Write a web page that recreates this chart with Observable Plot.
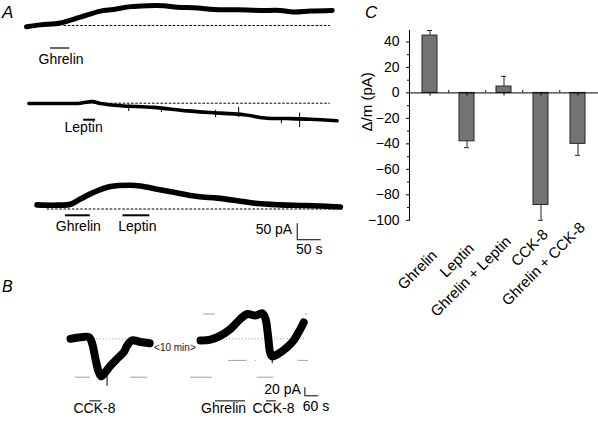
<!DOCTYPE html>
<html><head><meta charset="utf-8">
<script src="https://cdn.jsdelivr.net/npm/d3@7"></script>
<script src="https://cdn.jsdelivr.net/npm/@observablehq/plot@0.6"></script>
<style>
html,body{margin:0;padding:0;background:#fff;}
#fig{position:relative;width:598px;height:422px;overflow:hidden;background:#fff;font-family:"Liberation Sans",Arial,Helvetica,sans-serif;}
#fig svg{position:absolute;left:0;top:0;}
.panel{position:absolute;font-style:italic;line-height:1;color:#000;}
</style></head>
<body><div id="fig">
<div class="panel" style="left:2px;top:4px;font-size:17px">A</div>
<div class="panel" style="left:2px;top:279px;font-size:16px">B</div>
<div class="panel" style="left:365px;top:4px;font-size:17px">C</div>
</div>
<script>
// ---------- Panel C data ----------
const categories = ["Ghrelin", "Leptin", "Ghrelin + Leptin", "CCK-8", "Ghrelin + CCK-8"];
const meanDelta = [45, -38, 5, -88, -40];
const semDelta = [4, 5, 8, 12, 9];
const yTicks = [40, 20, 0, -20, -40, -60, -80, -100];
const yMinorTicks = [30, 10, -10, -30, -50, -70, -90];

// ---------- Panel A data: [time (s), current (pA) relative to dashed baseline] ----------
const traceA1 = [[0,-4],[29,2],[71,8],[112,26],[154,45],[181,50],[217,59],[251,62],[285,62],[314,57],[356,55],[390,50],[439,49],[487,47],[529,47],[556,42],[592,45],[637,47]];
const traceA2 = [[5,-1],[57,-1],[112,0],[137,5],[154,-1],[196,-8],[265,-13],[335,-24],[404,-31],[453,-36],[501,-47],[543,-48],[592,-50],[647,-55]];
const spikesA2 = [[213,-5,-26],[281,-12,-29],[394,-22,-45],[442,-13,-45],[531,-48,-64],[569,-31,-76]];
const traceA3 = [[22,13],[64,12],[92,15],[112,31],[140,52],[175,70],[217,74],[237,72],[272,62],[307,52],[356,39],[397,34],[439,26],[481,17],[529,13],[578,11],[633,8],[654,6]];
const baselineA1 = [78, 633];
const baselineA2 = [140, 633];
const baselineA3 = [43, 647];
const drugsA1 = [{drug: "Ghrelin", t1: 50, t2: 90, label: 72}];
const drugsA2 = [{drug: "Leptin", t1: 119, t2: 144, label: 119}];
const drugsA3 = [{drug: "Ghrelin", t1: 81, t2: 133, label: 108}, {drug: "Leptin", t1: 201, t2: 257, label: 231}];
const scaleA = {pA: 50, s: 50};

// ---------- Panel B data ----------
const traceBLeft = [[0,0],[43,4],[79,4],[93,-12],[107,-50],[121,-83],[132,-94],[150,-83],[172,-67],[200,-50],[229,-33],[243,-17],[265,-4],[300,-8],[340,-11]];
const traceBRight = [[0,-4],[43,-2],[86,8],[129,25],[172,50],[200,62],[236,58],[265,64],[279,50],[289,12],[300,-37],[308,-44],[329,-39],[372,-21],[400,-4],[429,25],[443,41]];
const spikesBLeft = [[157,-80,-119]];
const spikesBRight = [[308,-40,-62]];
const levelsBLeft = [{y: -96, t1: 21, t2: 86}, {y: -96, t1: 258, t2: 332}];
const dottedBLeft = [{y: 0, t1: 86, t2: 343}];
const levelsBRight = [{y: 62, t1: 14, t2: 64}, {y: 62, t1: 265, t2: 293}, {y: 62, t1: 451, t2: 459},
  {y: -54, t1: 121, t2: 200}, {y: -54, t1: 236, t2: 240}, {y: -54, t1: 420, t2: 464},
  {y: -96, t1: -43, t2: 50}, {y: -96, t1: 243, t2: 315}];
const dottedBRight = [{y: 0, t1: 29, t2: 451}];
const drugsBLeft = [{drug: "CCK-8", t1: 83, t2: 132, label: 103}];
const drugsBRight = [{drug: "Ghrelin", t1: 64, t2: 193, label: 99}, {drug: "CCK-8", t1: 283, t2: 326, label: 313}];
const scaleB = {pA: 20, s: 60};

// ---------- drawing helpers ----------
const W = 598, H = 422;
const FONT = "Liberation Sans, Arial, Helvetica, sans-serif";
const fig = document.getElementById("fig");
function overlay(options) {
  const svg = Plot.plot({
    width: W, height: H, margin: 0,
    style: {background: "transparent", fontFamily: FONT, fontSize: "14px", color: "#000", overflow: "visible"},
    ...options
  });
  svg.style.position = "absolute"; svg.style.left = "0px"; svg.style.top = "0px";
  fig.appendChild(svg);
}
// linear scales: time origin x0 (px), px per second, baseline y (px), px per pA
function traceScales(x0, pxPerS, baseY, pxPerPA) {
  return {
    x: {type: "linear", domain: [0, 100], range: [x0, x0 + 100 * pxPerS], axis: null},
    y: {type: "linear", domain: [0, 100], range: [baseY, baseY - 100 * pxPerPA], axis: null}
  };
}
const tx = d => d[0], ty = d => d[1];

// ---------- Panel A ----------
function drawTraceA(trace, base, baseY, drugs, opts) {
  const marks = [
    Plot.ruleY([0], {x1: base[0], x2: base[1], stroke: "#000", strokeWidth: 1, strokeDasharray: "2.6,1.6"}),
    Plot.line(trace, {x: tx, y: ty, stroke: "#000", strokeWidth: opts.width, curve: "catmull-rom", strokeLinecap: "round"}),
    Plot.ruleY(drugs, {x1: "t1", x2: "t2", y: 0, dy: opts.barDy, stroke: "#000", strokeWidth: opts.barWidth}),
    Plot.text(drugs, {x: "label", y: 0, text: "drug", dy: opts.textDy, lineAnchor: "bottom", fontSize: 14})
  ];
  if (opts.spikes) marks.push(Plot.ruleX(opts.spikes, {x: d => d[0], y1: d => d[1], y2: d => d[2], stroke: "#000", strokeWidth: 1}));
  if (opts.extra) marks.push(...opts.extra);
  overlay({...traceScales(26, 0.48, baseY, 0.32), marks});
}
drawTraceA(traceA1, baselineA1, 25, drugsA1, {width: 5, barDy: 22.5, barWidth: 1.2, textDy: 38.3});
drawTraceA(traceA2, baselineA2, 102.7, drugsA2, {width: 3.6, barDy: 16.5, barWidth: 2, textDy: 28.5, spikes: spikesA2});
const sbA = {t: 564, top: -46};
drawTraceA(traceA3, baselineA3, 208.5, drugsA3, {width: 5.6, barDy: 6.3, barWidth: 2, textDy: 22.2, extra: [
  Plot.ruleX([sbA], {x: "t", y1: "top", y2: d => d.top - scaleA.pA, stroke: "#000", strokeWidth: 1}),
  Plot.ruleY([sbA], {x1: "t", x2: d => d.t + scaleA.s, y: d => d.top - scaleA.pA, stroke: "#000", strokeWidth: 1}),
  Plot.text([`${scaleA.pA} pA`], {x: sbA.t, y: 0, dx: -5, dy: 24.8, textAnchor: "end", lineAnchor: "bottom", fontSize: 14}),
  Plot.text([`${scaleA.s} s`], {x: sbA.t + scaleA.s / 2, y: 0, dy: 44.8, lineAnchor: "bottom", fontSize: 14})
]});

// ---------- Panel B ----------
function drawTraceB(trace, x0, levels, dotted, spikes, drugs, extra) {
  overlay({...traceScales(x0, 0.233, 338.3, 0.4), marks: [
    Plot.ruleY(dotted, {x1: "t1", x2: "t2", y: "y", stroke: "#9a9a9a", strokeWidth: 1, strokeDasharray: "1,2.2"}),
    Plot.ruleY(levels, {x1: "t1", x2: "t2", y: "y", stroke: "#a0a0a0", strokeWidth: 1}),
    Plot.line(trace, {x: tx, y: ty, stroke: "#000", strokeWidth: 8, curve: "catmull-rom"}),
    Plot.ruleX(spikes, {x: d => d[0], y1: d => d[1], y2: d => d[2], stroke: "#000", strokeWidth: 1}),
    Plot.ruleY(drugs, {x1: "t1", x2: "t2", y: 0, dy: 62, stroke: "#555", strokeWidth: 1.5}),
    Plot.text(drugs, {x: "label", y: 0, text: "drug", dy: 73.7, lineAnchor: "bottom", fontSize: 14}),
    ...extra
  ]});
}
drawTraceB(traceBLeft, 70, levelsBLeft, dottedBLeft, spikesBLeft, drugsBLeft, [
  Plot.text(["<10 min>"], {x: 448, y: 0, dy: 11.7, lineAnchor: "bottom", fontSize: 10, fill: "#222"})
]);
const sbB = {t: 448, top: -122.5};
drawTraceB(traceBRight, 200, levelsBRight, dottedBRight, spikesBRight, drugsBRight, [
  Plot.ruleX([sbB], {x: "t", y1: "top", y2: d => d.top - scaleB.pA, stroke: "#000", strokeWidth: 1}),
  Plot.ruleY([sbB], {x1: "t", x2: d => d.t + scaleB.s, y: d => d.top - scaleB.pA, stroke: "#000", strokeWidth: 1}),
  Plot.text([`${scaleB.pA} pA`], {x: sbB.t, y: 0, dx: -4, dy: 55, textAnchor: "end", lineAnchor: "bottom", fontSize: 14}),
  Plot.text([`${scaleB.s} s`], {x: sbB.t + scaleB.s * 0.8, y: 0, dy: 71.7, lineAnchor: "bottom", fontSize: 14})
]);

// ---------- Panel C ----------
const barData = categories.map((c, i) => ({cat: c, mean: meanDelta[i], sem: semDelta[i], end: meanDelta[i] + Math.sign(meanDelta[i]) * semDelta[i]}));
overlay({
  marginLeft: 409, marginRight: 0, marginTop: 30, marginBottom: 202.2,
  x: {domain: categories, paddingInner: 0.6, paddingOuter: 0.32, axis: null},
  y: {domain: [-100, 49], axis: null},
  marks: [
    Plot.ruleX(barData, {x: "cat", y1: "mean", y2: "end", stroke: "#222", strokeWidth: 1}),
    Plot.tickY(barData, {x: "cat", y: "end", insetLeft: 5, insetRight: 5, stroke: "#222", strokeWidth: 1}),
    Plot.barY(barData, {x: "cat", y: "mean", fill: "#737373", stroke: "#262626", strokeWidth: 1}),
    Plot.ruleX(categories, {x: d => d, y1: 0, y2: -2.4, stroke: "#000", strokeWidth: 1}),
    Plot.ruleX(categories.slice(0, -1), {x: d => d, dx: 18.75, y1: 0, y2: 1.8, stroke: "#000", strokeWidth: 1}),
    Plot.ruleY([0], {stroke: "#000", strokeWidth: 1}),
    Plot.frame({anchor: "left", stroke: "#000"}),
    Plot.axisY({ticks: yTicks, tickSize: 3, tickPadding: 7, tickFormat: d3.format("d"), fontSize: 14, label: null}),
    Plot.axisY({ticks: yMinorTicks, tickSize: 2, tickFormat: () => "", label: null}),
    Plot.text(["Δ/m (pA)"], {frameAnchor: "left", rotate: -90, dx: -42, dy: 6, fontSize: 15}),
    ...categories.map((c, i) => Plot.text([c], {x: d => d, frameAnchor: "bottom", dx: 8, dy: 36 - 7 * i,
      rotate: -45, textAnchor: "end", lineAnchor: "bottom", fontSize: 15}))
  ]
});
</script>
</body></html>
